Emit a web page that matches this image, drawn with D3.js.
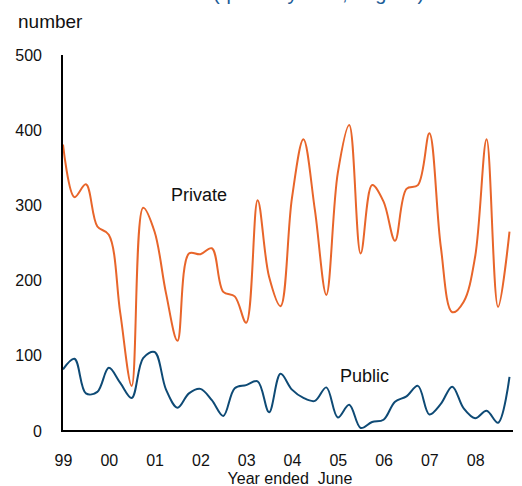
<!DOCTYPE html>
<html>
<head>
<meta charset="utf-8">
<script src="https://cdn.jsdelivr.net/npm/d3@7"></script>
<style>
  html, body { margin: 0; padding: 0; background: #fff; }
  #chart { width: 522px; height: 486px; }
  text { font-family: "Liberation Sans", Arial, sans-serif; fill: #111; }
</style>
</head>
<body>
<div id="chart"></div>
<script>
// Quarterly data, year ended June 1999 .. 2008 (40 quarters)
const yearLabels = ['99', '00', '01', '02', '03', '04', '05', '06', '07', '08'];
const yTicks = [0, 100, 200, 300, 400, 500];

const privateValues = [
  381, 311, 328, 272, 261, 157, 60, 297, 265, 183,
  120, 236, 235, 243, 185, 179, 144, 307, 205, 166,
  310, 388, 294, 181, 343, 407, 236, 327, 305, 253,
  322, 327, 396, 245, 158, 172, 232, 388, 165, 265
];

const publicValues = [
  82, 96, 50, 52, 84, 64, 44, 97, 105, 55,
  31, 50, 56, 41, 20, 57, 61, 66, 25, 76,
  55, 44, 40, 58, 18, 35, 4, 12, 15, 39,
  46, 60, 22, 36, 59, 30, 17, 27, 11, 72
];

(function() {
  'use strict';

  const width = 522;
  const height = 486;

  /**
   * Draw the chart
   */
  function render() {
    const svg = d3.select('#chart')
      .append('svg')
      .attr('width', width)
      .attr('height', height);

    // Scales
    const x = d3.scaleLinear()
      .domain([0, privateValues.length - 1])
      .range([63, 509.5]);

    const y = d3.scaleLinear()
      .domain([0, 500])
      .range([431, 55]);

    // Title, cut off at the top edge as in the source
    svg.append('text')
      .attr('x', 213)
      .attr('y', 0)
      .attr('font-size', '20px')
      .style('fill', '#1d5d98')
      .text('(quarterly data, original)');

    // Unit label
    svg.append('text')
      .attr('x', 18)
      .attr('y', 28)
      .attr('font-size', '19px')
      .text('number');

    // Y axis labels
    svg.append('g')
      .attr('transform', 'translate(42,0)')
      .call(d3.axisLeft(y).tickValues(yTicks).tickSize(0).tickPadding(0))
      .call(g => g.select('.domain').remove())
      .selectAll('text')
      .attr('font-size', '16px')
      .attr('font-family', '"Liberation Sans", Arial, sans-serif')
      .style('fill', '#111');

    // X axis labels (one per year, every 4th quarter)
    const tickIdx = yearLabels.map((d, i) => i * 4);
    svg.append('g')
      .attr('transform', 'translate(0,455)')
      .call(d3.axisBottom(x)
        .tickValues(tickIdx)
        .tickFormat((d, i) => yearLabels[i])
        .tickSize(0)
        .tickPadding(0))
      .call(g => g.select('.domain').remove())
      .selectAll('text')
      .attr('font-size', '16px')
      .attr('font-family', '"Liberation Sans", Arial, sans-serif')
      .style('fill', '#111');

    svg.append('text')
      .attr('x', 290)
      .attr('y', 484)
      .attr('text-anchor', 'middle')
      .attr('font-size', '16px')
      .attr('xml:space', 'preserve')
      .text('Year ended  June');

    // Series lines
    const line = d3.line()
      .x((d, i) => x(i))
      .y(d => y(d))
      .curve(d3.curveCatmullRom.alpha(0.5));

    svg.append('path')
      .datum(privateValues)
      .attr('fill', 'none')
      .attr('stroke', '#e8652a')
      .attr('stroke-width', 2)
      .attr('d', line);

    svg.append('path')
      .datum(publicValues)
      .attr('fill', 'none')
      .attr('stroke', '#0e4a75')
      .attr('stroke-width', 2)
      .attr('d', line);

    // Axis lines
    svg.append('line')
      .attr('x1', 62).attr('x2', 62)
      .attr('y1', y(500)).attr('y2', y(0) + 1)
      .attr('stroke', '#000')
      .attr('stroke-width', 2);

    svg.append('line')
      .attr('x1', 61).attr('x2', 513)
      .attr('y1', y(0)).attr('y2', y(0))
      .attr('stroke', '#000')
      .attr('stroke-width', 2);

    // Series labels
    svg.append('text')
      .attr('x', 171)
      .attr('y', 201)
      .attr('font-size', '18px')
      .text('Private');

    svg.append('text')
      .attr('x', 340)
      .attr('y', 382)
      .attr('font-size', '18px')
      .text('Public');
  }

  render();
})();
</script>
</body>
</html>
